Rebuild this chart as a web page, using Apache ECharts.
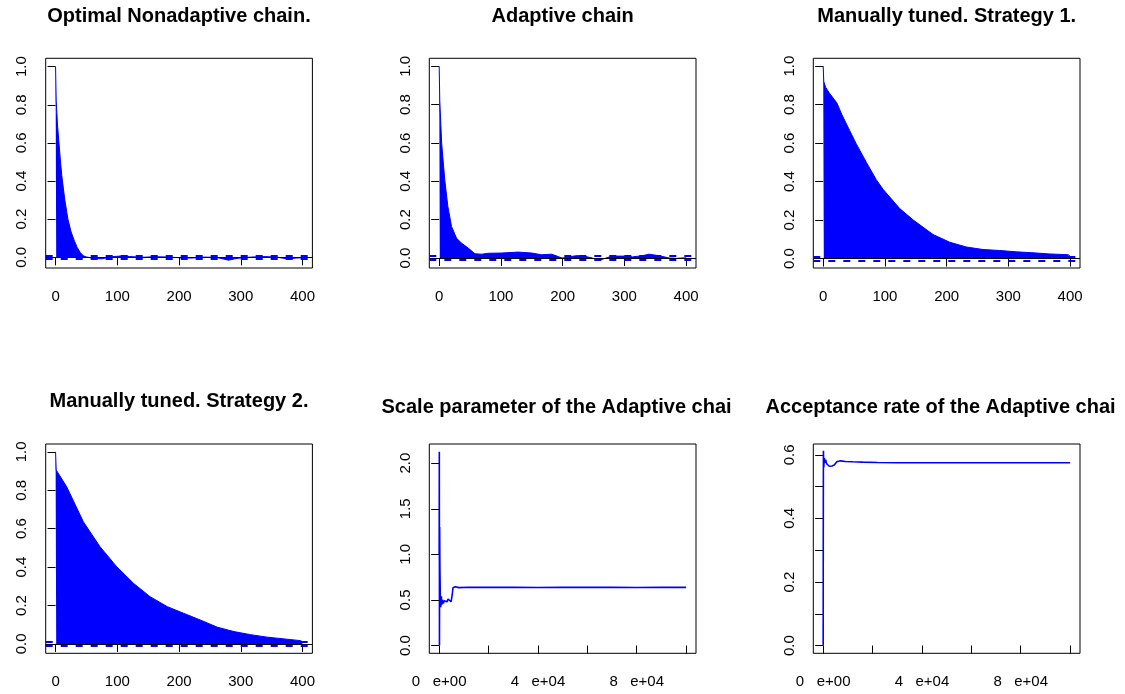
<!DOCTYPE html>
<html><head><meta charset="utf-8">
<script src="https://cdn.jsdelivr.net/npm/echarts@6/dist/echarts.min.js"></script>
<style>html,body{margin:0;padding:0;background:#fff}#c{width:1125px;height:694px}</style>
</head><body><div id="c"></div>
<script>
// ---------- DATA ----------
const titles = [
  "Optimal Nonadaptive chain.",
  "Adaptive chain",
  "Manually tuned. Strategy 1.",
  "Manually tuned. Strategy 2.",
  "Scale parameter of the Adaptive chain",
  "Acceptance rate of the Adaptive chain"
];

// ACF envelopes (lag, autocorrelation)
const lags1 = [0,1,2,3,5,8,10,15,20,25,30,35,40,45,50,60,75,90,110,120,140,160,180,200,220,240,260,280,290,300,320,340,360,375,390,400];
const acf1  = [1.0,0.82,0.76,0.70,0.62,0.50,0.43,0.30,0.20,0.135,0.09,0.052,0.025,0.008,0.002,-0.005,-0.008,0.003,0.008,0.004,0.0,0.003,0.002,-0.002,-0.004,0.001,0.0,-0.015,-0.008,-0.003,0.002,0.004,0.0,-0.008,-0.004,-0.002];

const lags2 = [0,1,4,9,14,20,28,36,47,58,69,80,101,128,150,166,182,199,210,221,232,248,259,275,286,300,313,329,340,356,373,384,400];
const acf2  = [1.0,0.82,0.60,0.41,0.27,0.165,0.104,0.078,0.052,0.022,0.02,0.025,0.026,0.031,0.026,0.017,0.02,0.0,0.005,0.012,0.012,0.0,-0.012,0.005,0.01,0.01,0.006,0.012,0.02,0.012,0.0,-0.002,0.001];

const lags3 = [0,1,4,10,22,30,43,53,70,86,97,124,146,178,205,232,259,286,313,340,367,397,400];
const acf3  = [1.0,0.92,0.89,0.86,0.81,0.75,0.665,0.60,0.50,0.41,0.36,0.26,0.20,0.125,0.085,0.06,0.047,0.042,0.035,0.03,0.024,0.02,0.012];

const lags4 = [0,1,5,18,45,72,99,126,153,181,207,234,262,289,316,343,370,397,400];
const acf4  = [1.0,0.905,0.885,0.818,0.636,0.506,0.402,0.316,0.246,0.194,0.16,0.125,0.087,0.064,0.048,0.035,0.026,0.017,0.01];

// confidence bound (+/-) drawn as dashed lines
const ciBound = 0.0062;

// Trace: scale parameter of the adaptive chain
const iter5  = [0,60,120,200,300,450,650,900,1100,1400,1700,2000,2400,2800,3200,3600,4000,4400,4800,5100,5300,5600,6500,8000,12000,20000,30000,40000,50000,60000,70000,80000,90000,100000];
const scale5 = [1.0,2.125,0.0,1.30,0.85,0.55,0.42,0.54,0.45,0.50,0.46,0.49,0.47,0.50,0.48,0.51,0.49,0.50,0.48,0.50,0.56,0.635,0.645,0.635,0.64,0.638,0.64,0.636,0.64,0.638,0.64,0.637,0.64,0.638];

// Trace: acceptance rate of the adaptive chain
const iter6 = [0,30,60,100,250,450,700,1000,1400,1900,2500,3500,4500,5500,7000,9000,12000,16000,22000,30000,45000,60000,80000,100000];
const acc6  = [0.0,0.33,0.45,0.613,0.56,0.59,0.575,0.585,0.572,0.566,0.564,0.565,0.568,0.578,0.581,0.579,0.578,0.577,0.576,0.575,0.575,0.575,0.575,0.575];

// tick values / labels
const acfXTicks = [0,100,200,300,400];
const acfYTicks = [0,0.2,0.4,0.6,0.8,1.0];
const scaleYTicks = [0,0.5,1.0,1.5,2.0];
const accYTicks = [0,0.1,0.2,0.3,0.4,0.5,0.6];
const accYLabels = [0,0.2,0.4,0.6];
const traceXTicks = [0,20000,40000,60000,80000,100000];
const traceXLabelVals = [0,40000,80000];
const traceXLabelText = ["0   e+00","4   e+04","8   e+04"];

// ---------- LAYOUT ----------
const FONT = '"Liberation Sans", Arial, Helvetica, sans-serif';
const BLUE = '#0000ff';
const colLeft = [45.7, 429.3, 813.3];
const rowTop = [58.3, 444];
const rowH = [209.7, 209.3];
const boxW = 266.7;

const panels = [
  {x: lags1, y: acf1, kind: 'acf', xr: [-16, 416], yr: [-0.056, 1.044], col: 0, row: 0},
  {x: lags2, y: acf2, kind: 'acf', xr: [-16, 416], yr: [-0.052, 1.042], col: 1, row: 0},
  {x: lags3, y: acf3, kind: 'acf', xr: [-16, 416], yr: [-0.049, 1.041], col: 2, row: 0},
  {x: lags4, y: acf4, kind: 'acf', xr: [-16, 416], yr: [-0.049, 1.041], col: 0, row: 1},
  {x: iter5, y: scale5, kind: 'trace', xr: [-4000, 104000], yr: [-0.085, 2.21], col: 1, row: 1, yTicks: scaleYTicks, yLabels: scaleYTicks},
  {x: iter6, y: acc6, kind: 'trace', xr: [-4000, 104000], yr: [-0.0244, 0.634], col: 2, row: 1, yTicks: accYTicks, yLabels: accYLabels}
];

const grids = [], xAxes = [], yAxes = [], series = [];
panels.forEach((p, i) => {
  grids.push({left: colLeft[p.col], top: rowTop[p.row], width: boxW, height: rowH[p.row],
    show: true, borderColor: '#000', borderWidth: 1, backgroundColor: 'transparent'});
  const isAcf = p.kind === 'acf';
  xAxes.push({
    type: 'value', gridIndex: i, min: p.xr[0], max: p.xr[1],
    axisLine: {show: false}, splitLine: {show: false},
    axisTick: {show: true, inside: false, length: 8, lineStyle: {color: '#000', width: 1},
      customValues: isAcf ? acfXTicks : traceXTicks},
    axisLabel: {color: '#000', fontFamily: FONT, fontSize: 15, margin: 21,
      customValues: isAcf ? acfXTicks : traceXLabelVals,
      formatter: isAcf ? (v => String(v)) : (v => traceXLabelText[traceXLabelVals.indexOf(v)] || '')}
  });
  yAxes.push({
    type: 'value', gridIndex: i, min: p.yr[0], max: p.yr[1],
    axisLine: {show: false}, splitLine: {show: false},
    axisTick: {show: true, inside: false, length: 8, lineStyle: {color: '#000', width: 1},
      customValues: isAcf ? acfYTicks : p.yTicks},
    axisLabel: {color: '#000', fontFamily: FONT, fontSize: 15, margin: 16, rotate: 90,
      customValues: isAcf ? acfYTicks : p.yLabels,
      formatter: v => v.toFixed(1)}
  });
  const pts = p.x.map((xv, k) => [xv, p.y[k]]);
  if (isAcf) {
    series.push({
      type: 'line', xAxisIndex: i, yAxisIndex: i, data: pts, symbol: 'none', silent: true,
      lineStyle: {color: BLUE, width: 1}, areaStyle: {color: BLUE, opacity: 1},
      markLine: {silent: true, symbol: 'none', label: {show: false}, animation: false,
        data: [
          {yAxis: 0, lineStyle: {color: '#000', width: 1, type: 'solid'}},
          {yAxis: ciBound, lineStyle: {color: BLUE, width: 2, type: [7, 8]}},
          {yAxis: -ciBound, lineStyle: {color: BLUE, width: 2, type: [7, 8]}}
        ]}
    });
  } else {
    series.push({
      type: 'line', xAxisIndex: i, yAxisIndex: i, data: pts, symbol: 'none', silent: true,
      lineStyle: {color: BLUE, width: 1.6}
    });
  }
});

const titleStyle = {fontFamily: FONT, fontSize: 20, fontWeight: 'bold', color: '#000'};
const titleOpts = [
  {text: titles[0], left: 179, top: 6.5, textAlign: 'center', textStyle: titleStyle},
  {text: titles[1], left: 562.7, top: 6.5, textAlign: 'center', textStyle: titleStyle},
  {text: titles[2], left: 946.7, top: 6.5, textAlign: 'center', textStyle: titleStyle},
  {text: titles[3], left: 179, top: 391.5, textAlign: 'center', textStyle: titleStyle},
  {text: titles[4], left: 381.5, top: 397, textAlign: 'left',
    textStyle: Object.assign({}, titleStyle, {width: 357, overflow: 'truncate', ellipsis: ''})},
  {text: titles[5], left: 765.5, top: 397, textAlign: 'left',
    textStyle: Object.assign({}, titleStyle, {width: 355, overflow: 'truncate', ellipsis: ''})}
].map(t => Object.assign({padding: 0}, t));

const chart = echarts.init(document.getElementById('c'), null, {renderer: 'canvas'});
chart.setOption({
  animation: false,
  backgroundColor: '#fff',
  title: titleOpts,
  grid: grids,
  xAxis: xAxes,
  yAxis: yAxes,
  series: series
});
</script>
</body></html>
